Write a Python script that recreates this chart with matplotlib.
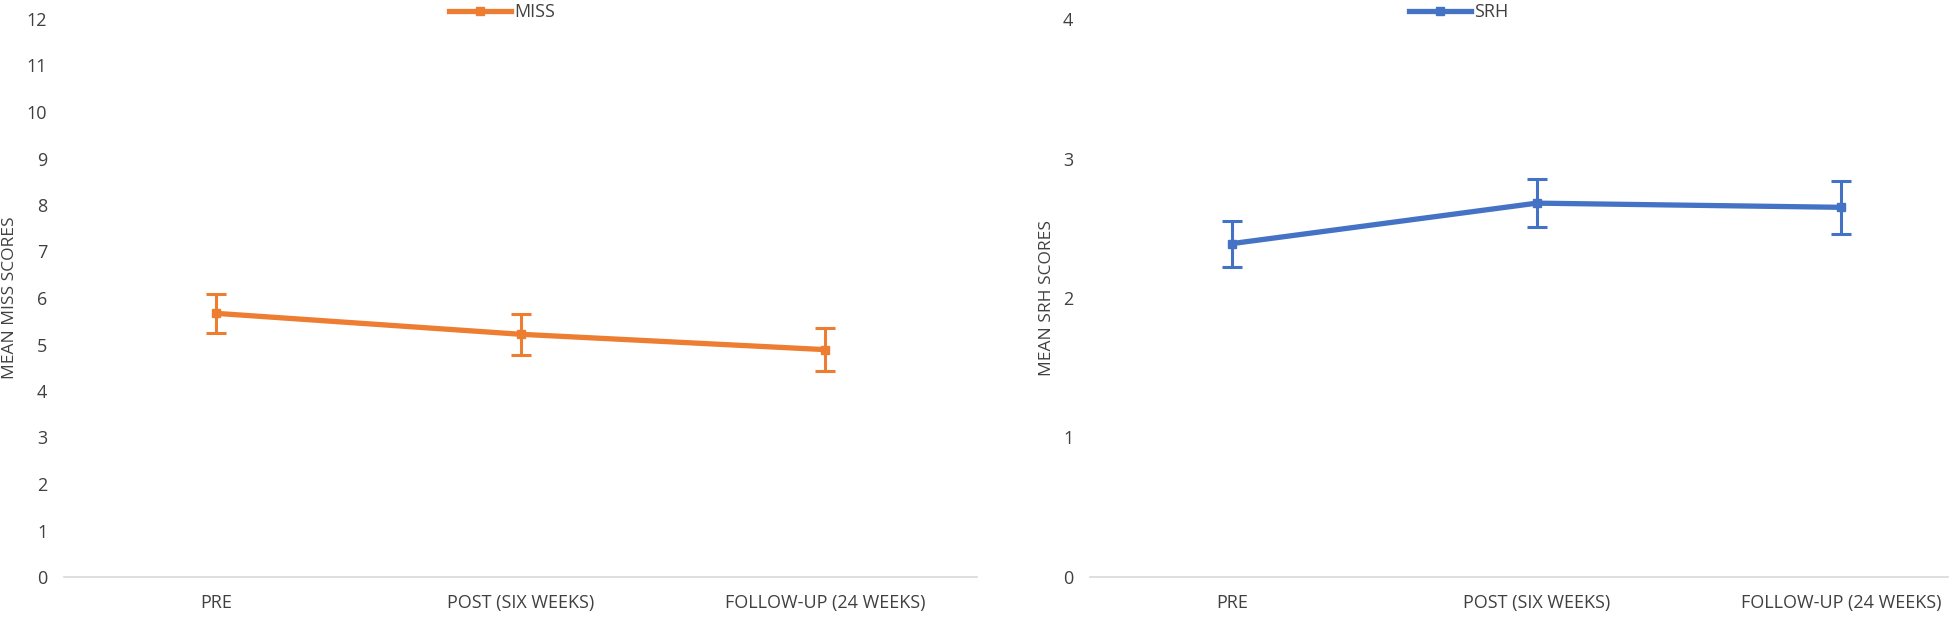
import matplotlib
matplotlib.use('Agg')
import matplotlib.pyplot as plt
from matplotlib.lines import Line2D

# data
timepoints = ['PRE', 'POST (SIX WEEKS)', 'FOLLOW-UP (24 WEEKS)']
miss_mean = [5.67, 5.22, 4.89]
miss_err = [0.42, 0.44, 0.47]
srh_mean = [2.39, 2.68, 2.65]
srh_err = [0.165, 0.17, 0.19]

plt.rcParams['font.family'] = ['Open Sans', 'DejaVu Sans']

fig = plt.figure(figsize=(19.55, 6.17), dpi=100)
ax1 = fig.add_axes([64 / 1955, 40 / 617, 913 / 1955, 558 / 617])
ax2 = fig.add_axes([1090 / 1955, 40 / 617, 858 / 1955, 558 / 617])


def draw(ax, mean, err, color, label, ymax, ylabel, xlim, legx):
    x = list(range(len(timepoints)))
    ax.errorbar(x, mean, yerr=err, color=color, lw=3.8, marker='s', ms=6,
                elinewidth=2.2, capsize=7, capthick=2.2)
    ax.set_xlim(*xlim)
    ax.set_ylim(0, ymax)
    ax.set_yticks(range(0, ymax + 1))
    ax.set_xticks(x)
    ax.set_xticklabels(timepoints)
    ax.tick_params(length=0, labelsize=13, colors='#404040', pad=12)
    ax.tick_params(axis='y', pad=12)
    for s in ['top', 'right', 'left']:
        ax.spines[s].set_visible(False)
    ax.spines['bottom'].set_color('#d9d9d9')
    ax.spines['bottom'].set_linewidth(1.2)
    ax.set_ylabel(ylabel, fontsize=12.5, color='#404040', labelpad=6)
    handle = Line2D([], [], color=color, lw=3.8, marker='s', ms=6)
    leg = ax.legend([handle], [label], loc='center', bbox_to_anchor=(legx, 1.012),
                    frameon=False, fontsize=13, handlelength=3.4, handletextpad=0.2)
    for t in leg.get_texts():
        t.set_color('#404040')


draw(ax1, miss_mean, miss_err, '#ED7D31', 'MISS', 12, 'MEAN MISS SCORES', (-0.5, 2.5), 0.48)
draw(ax2, srh_mean, srh_err, '#4472C4', 'SRH', 4, 'MEAN SRH SCORES', (-0.466, 2.35), 0.43)

fig.savefig('out.png', dpi=100)
